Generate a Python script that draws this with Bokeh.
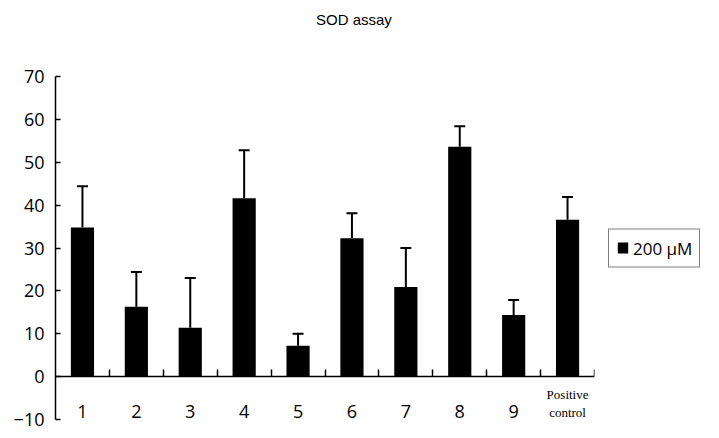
from bokeh.plotting import figure
from bokeh.models import (ColumnDataSource, LinearAxis, FixedTicker, Whisker, TeeHead,
                          Legend, LegendItem, Range1d, Div)
from bokeh.layouts import column
from bokeh.core.properties import value
from bokeh.embed import file_html
from bokeh.resources import INLINE

categories = ["1", "2", "3", "4", "5", "6", "7", "8", "9", "Positive control"]
means = [34.8, 16.3, 11.4, 41.6, 7.2, 32.3, 20.9, 53.6, 14.4, 36.6]
errors = [9.6, 8.1, 11.6, 11.2, 2.8, 5.8, 9.1, 4.8, 3.5, 5.3]
y_ticks = [-10, 0, 10, 20, 30, 40, 50, 60, 70]
series_name = "200 μM"
title_text = "SOD assay"

n = len(categories)
xs = [i + 0.5 for i in range(n)]
src = ColumnDataSource(dict(
    x=xs, top=means,
    upper=[m + e for m, e in zip(means, errors)],
))

FONT = "Open Sans"

title_div = Div(
    text=('<div style="padding:6px 0 0 311px; font-family:\'Liberation Sans\'; '
          'font-size:15px; line-height:18px; color:#000; white-space:nowrap;">'
          + title_text + '</div>'),
    width=719, height=24)

p = figure(frame_width=539, frame_height=343, output_backend="svg", toolbar_location=None,
           x_range=Range1d(0, n), y_range=Range1d(-10, 70),
           x_axis_location=None, y_axis_location=None,
           min_border_left=55, min_border_right=0, min_border_top=42, min_border_bottom=18)
p.outline_line_color = None
p.grid.visible = False
p.background_fill_color = "white"
p.border_fill_color = "white"

bars = p.vbar(x="x", top="top", width=0.43, bottom=0, source=src,
              fill_color="black", line_color=None)

wh = Whisker(source=src, base="x", upper="upper", lower="top",
             line_color="black", line_width=2,
             upper_head=TeeHead(size=11, line_width=2, line_color="black"),
             lower_head=None)
p.add_layout(wh)

# y axis
yax = LinearAxis(ticker=FixedTicker(ticks=y_ticks))
yax.axis_line_width = 1.5
yax.major_tick_line_width = 1.5
yax.major_tick_in = 5
yax.major_tick_out = 0
yax.minor_tick_line_color = None
yax.major_label_text_font = FONT
yax.major_label_text_font_size = "18px"
yax.major_label_text_color = "black"
yax.major_label_standoff = 11
yax.major_label_overrides = {-10: "−10"}
p.add_layout(yax, "left")

# x axis at y = 0 with ticks at category boundaries
xax = LinearAxis(ticker=FixedTicker(ticks=list(range(1, n + 1))))
xax.fixed_location = 0
xax.axis_line_width = 1.5
xax.major_tick_line_width = 1.5
xax.major_tick_in = 7
xax.major_tick_out = 0
xax.minor_tick_line_color = None
xax.major_label_text_font_size = "0px"
xax.major_label_text_color = None
p.add_layout(xax, "below")

# category labels
p.text(x=xs[:-1], y=[0] * (n - 1), text=categories[:-1], y_offset=35,
       text_align="center", text_baseline="middle",
       text_font=value(FONT), text_font_size="18px", text_color="black")
last = categories[-1].split(" ")
p.text(x=[xs[-1], xs[-1]], y=[0, 0], text=last, y_offset=[18, 36],
       text_align="center", text_baseline="middle",
       text_font=value("Liberation Serif"), text_font_size="13px", text_color="black")

legend = Legend(items=[LegendItem(label=series_name, renderers=[bars])],
                location="left", margin=14, padding=7, spacing=0,
                glyph_width=13, glyph_height=14, label_height=17, label_standoff=4,
                label_text_font=FONT, label_text_font_size="17px", label_text_color="black",
                border_line_color="black", border_line_width=1,
                background_fill_alpha=1.0)
p.add_layout(legend, "right")

layout = column(title_div, p, spacing=0)
open("out.html", "w").write(file_html(layout, INLINE))
